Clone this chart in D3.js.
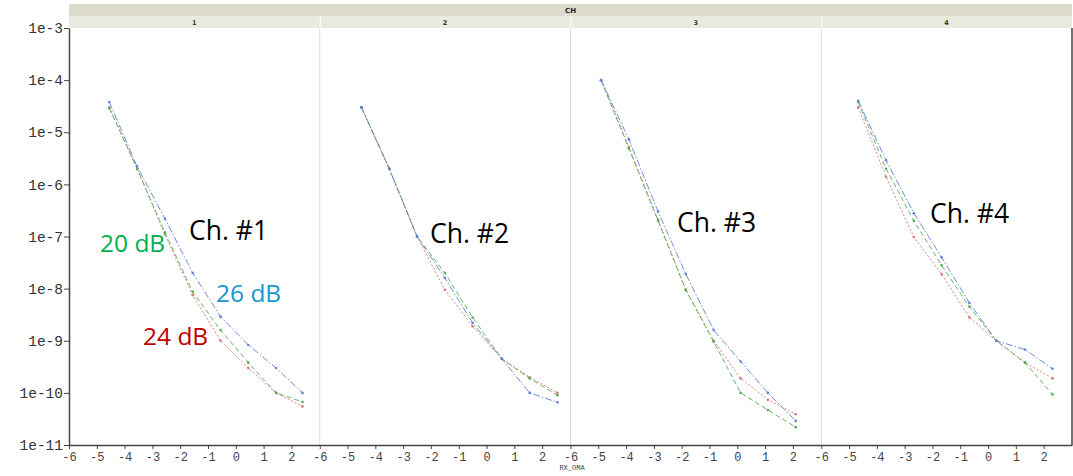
<!DOCTYPE html>
<html><head><meta charset="utf-8">
<script src="https://cdn.jsdelivr.net/npm/d3@7"></script>
<style>body{margin:0;background:#fff}svg{display:block}</style>
</head><body><svg id="c" width="1073" height="476"></svg>
<script>
// ---- data ----
const channels = ["1", "2", "3", "4"];
const seriesNames = ["20 dB", "24 dB", "26 dB"];
const xTicks = [-6, -5, -4, -3, -2, -1, 0, 1, 2];
const yTickValues = [1e-3, 1e-4, 1e-5, 1e-6, 1e-7, 1e-8, 1e-9, 1e-10, 1e-11];
const yTickLabels = ["1e-3", "1e-4", "1e-5", "1e-6", "1e-7", "1e-8", "1e-9", "1e-10", "1e-11"];

const ch1_x = [-4.55, -3.55, -2.55, -1.55, -0.55, 0.45, 1.45, 2.4];
const ch1_20dB = [2.9e-5, 2e-6, 1.2e-7, 8.7e-9, 1.6e-9, 3.8e-10, 1e-10, 6.7e-11];
const ch1_24dB = [3e-5, 2e-6, 1.1e-7, 7.5e-9, 1e-9, 3e-10, 1e-10, 5.5e-11];
const ch1_26dB = [3.8e-5, 2.2e-6, 2.2e-7, 2e-8, 2.9e-9, 8.3e-10, 3e-10, 1e-10];

const ch2_x = [-4.5, -3.5, -2.5, -1.5, -0.5, 0.55, 1.55, 2.55];
const ch2_20dB = [3e-5, 2e-6, 1e-7, 2e-8, 2.8e-9, 4.5e-10, 1.9e-10, 9e-11];
const ch2_24dB = [3e-5, 2e-6, 1e-7, 9.5e-9, 1.9e-9, 4.5e-10, 2e-10, 1e-10];
const ch2_26dB = [3e-5, 2e-6, 1e-7, 1.6e-8, 2.2e-9, 4.5e-10, 1e-10, 6.6e-11];

const ch3_x = [-4.9, -3.9, -2.85, -1.85, -0.85, 0.12, 1.1, 2.1];
const ch3_20dB = [1e-4, 4.9e-6, 2e-7, 9.3e-9, 9.6e-10, 1e-10, 4.7e-11, 2.2e-11];
const ch3_24dB = [1e-4, 5.2e-6, 2.1e-7, 9.5e-9, 1e-9, 1.9e-10, 7.4e-11, 3.9e-11];
const ch3_26dB = [1e-4, 7.3e-6, 3e-7, 1.9e-8, 1.6e-9, 4e-10, 1e-10, 2.9e-11];

const ch4_x = [-4.67, -3.67, -2.67, -1.67, -0.67, 0.3, 1.33, 2.32];
const ch4_20dB = [3.8e-5, 2e-6, 2e-7, 2.8e-8, 4.5e-9, 1e-9, 3.8e-10, 9.3e-11];
const ch4_24dB = [3e-5, 1.4e-6, 9.8e-8, 1.9e-8, 2.8e-9, 1e-9, 3.8e-10, 1.9e-10];
const ch4_26dB = [4e-5, 2.9e-6, 2.8e-7, 4e-8, 5.3e-9, 1e-9, 6.8e-10, 2.9e-10];

const annotationTexts = ["Ch. #1", "Ch. #2", "Ch. #3", "Ch. #4"];
const seriesLabels = ["20 dB", "26 dB", "24 dB"];

// ---- build ----
const panels = [
  {x: ch1_x, s: [ch1_20dB, ch1_24dB, ch1_26dB]},
  {x: ch2_x, s: [ch2_20dB, ch2_24dB, ch2_26dB]},
  {x: ch3_x, s: [ch3_20dB, ch3_24dB, ch3_26dB]},
  {x: ch4_x, s: [ch4_20dB, ch4_24dB, ch4_26dB]}
];
const styles = [
  {color: "#52ad52", dash: "5,3"},
  {color: "#e07272", dash: "2,2"},
  {color: "#5f7fdc", dash: "7,2,1.5,2"}
];

const svg = d3.select("#c");
const L = 69, R = 1072, T = 28, B = 445;
const pw = (R - L) / 4;
const y = d3.scaleLog().domain([1e-11, 1e-3]).range([B, T]);

// strips
svg.append("rect").attr("x", L).attr("y", 4).attr("width", R - L).attr("height", 12).attr("fill", "#dcdbcd");
svg.append("text").attr("x", L + (R - L) / 2).attr("y", 13).attr("text-anchor", "middle")
  .attr("font-family", "DejaVu Sans").attr("font-weight", "bold").attr("font-size", 7).attr("fill", "#222").text("CH");

channels.forEach((c, i) => {
  const x0 = L + i * pw;
  svg.append("rect").attr("x", x0 + (i ? 1 : 0)).attr("y", 16).attr("width", pw - (i ? 1 : 0)).attr("height", 12).attr("fill", "#e9e9df");
  svg.append("text").attr("x", x0 + pw / 2).attr("y", 25).attr("text-anchor", "middle")
    .attr("font-family", "DejaVu Sans").attr("font-weight", "bold").attr("font-size", 6.5).attr("fill", "#333").text(c);
  if (i > 0) svg.append("line").attr("x1", x0).attr("x2", x0).attr("y1", T).attr("y2", B).attr("stroke", "#dcdcdc");
});

// y axis
const yAxis = d3.axisLeft(y).tickValues(yTickValues).tickFormat((d, i) => yTickLabels[i]).tickSize(5).tickSizeOuter(0);
const yg = svg.append("g").attr("transform", `translate(${L},0)`).call(yAxis);
yg.select(".domain").attr("stroke", "#444").attr("stroke-width", 1.5);
yg.selectAll(".tick line").attr("stroke", "#444");
yg.selectAll(".tick text").attr("font-family", "Liberation Mono").attr("font-size", 14.5).attr("fill", "#333").attr("x", -6);

// right border
svg.append("line").attr("x1", R).attr("x2", R).attr("y1", T).attr("y2", B).attr("stroke", "#444").attr("stroke-width", 1.5);

panels.forEach((p, i) => {
  const x0 = L + i * pw;
  const x = d3.scaleLinear().domain([-6, 3.02]).range([x0, x0 + pw]);
  const xAxis = d3.axisBottom(x).tickValues(xTicks).tickFormat(d => String(d)).tickSize(4).tickSizeOuter(0);
  const xg = svg.append("g").attr("transform", `translate(0,${B})`).call(xAxis);
  xg.select(".domain").attr("stroke", "#444").attr("stroke-width", 1.5);
  xg.selectAll(".tick line").attr("stroke", "#444");
  xg.selectAll(".tick text").attr("font-family", "Liberation Mono").attr("font-size", 12).attr("fill", "#444").attr("y", 7);

  const line = d3.line().x((d, k) => x(p.x[k])).y(d => y(d));
  [1, 0, 2].forEach(si => {
    const st = styles[si];
    svg.append("path").datum(p.s[si]).attr("d", line).attr("fill", "none")
      .attr("stroke", st.color).attr("stroke-width", 1).attr("stroke-dasharray", st.dash).attr("opacity", 0.9);
    svg.append("g").selectAll("circle").data(p.s[si]).join("circle")
      .attr("cx", (d, k) => x(p.x[k])).attr("cy", d => y(d)).attr("r", 1.3).attr("fill", st.color);
  });
});

// x title
svg.append("text").attr("x", 572).attr("y", 470).attr("text-anchor", "middle")
  .attr("font-family", "Liberation Mono").attr("font-size", 7).attr("fill", "#444").text("RX_OMA");

// annotations
const annPos = [[189, 240], [430, 243], [677, 232], [930, 223]];
annotationTexts.forEach((t, i) => {
  svg.append("text").attr("x", annPos[i][0]).attr("y", annPos[i][1])
    .attr("font-family", "Open Sans").attr("font-size", 26.5).attr("fill", "#000").text(t);
});
const labPos = [[100, 252], [216, 302], [143, 345]];
const labCol = ["#00b050", "#1697d2", "#c00000"];
seriesLabels.forEach((t, i) => {
  svg.append("text").attr("x", labPos[i][0]).attr("y", labPos[i][1])
    .attr("font-family", "Open Sans").attr("font-size", 24.5).attr("fill", labCol[i]).text(t);
});
</script></body></html>
